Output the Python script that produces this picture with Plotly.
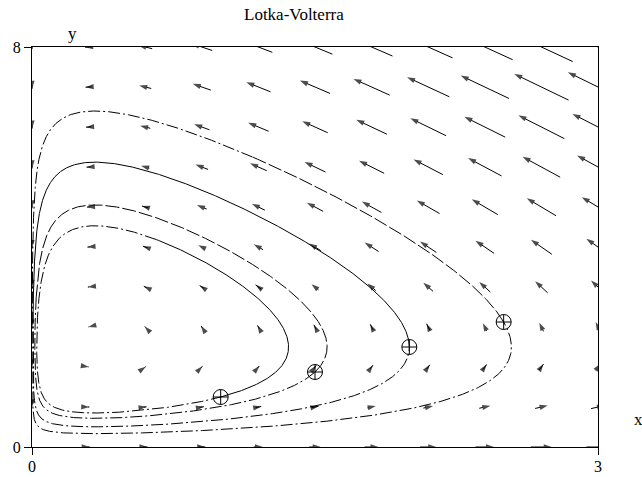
import numpy as np
import plotly.graph_objects as go

# Lotka-Volterra model:  x' = x (a - b y),  y' = y (-c + d x)
a, b, c, d = 2.0, 1.0, 0.5, 1.5

# direction field grid
field_x = [0.0, 0.3, 0.6, 0.9, 1.2, 1.5, 1.8, 2.1, 2.4, 2.7, 3.0]
field_y = [0.0, 0.8, 1.6, 2.4, 3.2, 4.0, 4.8, 5.6, 6.4, 7.2, 8.0]
arrow_scale = 0.0205

# initial conditions of the trajectories
start_x = [1.0, 1.5, 2.0, 2.5]
start_y = [1.0, 1.5, 2.0, 2.5]
# angle (deg, around the equilibrium) where the retraced stretch of each orbit ends
retrace_end = [60.0, 140.0, 150.0, 50.0]
retrace_dash = ["solid", "14px,3px", "solid", "14px,3px"]
base_dash = "12px,3px,2px,3px"

X_RANGE = [0, 3]
Y_RANGE = [0, 8]
PLOT_W, PLOT_H = 566, 400
M_L, M_T = 32, 47
SERIF = "Liberation Serif"

x_eq, y_eq = c / d, a / b


def field(x, y):
    return x * (a - b * y), y * (-c + d * x)


def screen_angle(x, y):
    sx = (x - x_eq) / (X_RANGE[1] - X_RANGE[0]) * PLOT_W
    sy = (y - y_eq) / (Y_RANGE[1] - Y_RANGE[0]) * PLOT_H
    return np.degrees(np.arctan2(sy, sx))


def trajectory(x0, y0, dt=0.002, t_max=60.0):
    # integrate in log coordinates (u = ln x, v = ln y) with RK4
    def rhs(s):
        return np.array([a - b * np.exp(s[1]), -c + d * np.exp(s[0])])

    s = np.array([np.log(x0), np.log(y0)])
    pts = [s.copy()]
    prev = screen_angle(x0, y0)
    total = 0.0
    for _ in range(int(t_max / dt)):
        k1 = rhs(s)
        k2 = rhs(s + 0.5 * dt * k1)
        k3 = rhs(s + 0.5 * dt * k2)
        k4 = rhs(s + dt * k3)
        s = s + dt / 6 * (k1 + 2 * k2 + 2 * k3 + k4)
        th = screen_angle(np.exp(s[0]), np.exp(s[1]))
        total += (th - prev + 180) % 360 - 180
        prev = th
        pts.append(s.copy())
        if total >= 360:
            break
    pts = np.exp(np.array(pts))
    return pts[:, 0], pts[:, 1]


fig = go.Figure()

# orbits
for x0, y0, th_end, dsh in zip(start_x, start_y, retrace_end, retrace_dash):
    xs, ys = trajectory(x0, y0)
    th0 = screen_angle(x0, y0)
    ang = np.degrees(np.unwrap(np.radians(screen_angle(xs, ys))))
    ang = ang - ang[0] + th0
    end = th_end if th_end > th0 else th_end + 360
    k = int(np.searchsorted(ang, end))
    fig.add_trace(go.Scatter(x=xs[:k + 1], y=ys[:k + 1], mode="lines",
                             line=dict(color="black", width=1, dash=dsh),
                             hoverinfo="skip", showlegend=False))
    fig.add_trace(go.Scatter(x=xs[k:], y=ys[k:], mode="lines",
                             line=dict(color="black", width=1, dash=base_dash),
                             hoverinfo="skip", showlegend=False))

# direction field, arrows centred on the grid points
ax_, ay_, sz = [], [], []
for gx in field_x:
    for gy in field_y:
        fx, fy = field(gx, gy)
        if fx == 0 and fy == 0:
            continue
        hx, hy = arrow_scale * fx / 2, arrow_scale * fy / 2
        ax_ += [gx - hx, gx + hx, None]
        ay_ += [gy - hy, gy + hy, None]
        sz += [0, 8.5, 0]

fig.add_trace(go.Scatter(
    x=ax_, y=ay_, mode="lines+markers",
    line=dict(color="black", width=1),
    marker=dict(symbol="arrow", size=sz, angleref="previous", color="black",
                line=dict(width=0)),
    hoverinfo="skip", showlegend=False, cliponaxis=True))

# initial points
fig.add_trace(go.Scatter(
    x=start_x, y=start_y, mode="markers",
    marker=dict(symbol="circle-cross-open", size=15, color="black",
                line=dict(width=1, color="black")),
    hoverinfo="skip", showlegend=False))

axis_common = dict(showgrid=False, zeroline=False, showline=True, mirror=True,
                   linecolor="black", linewidth=1, ticks="outside", ticklen=7,
                   tickcolor="black", tickwidth=1, automargin=False,
                   tickfont=dict(family=SERIF, size=16, color="black"))
fig.update_xaxes(range=X_RANGE, tickvals=X_RANGE, ticktext=["0", "3"],
                 ticklabelstandoff=-2, **axis_common)
fig.update_yaxes(range=Y_RANGE, tickvals=Y_RANGE, ticktext=["0", "8"], **axis_common)

fig.update_layout(
    width=642, height=477,
    margin=dict(l=M_L, r=642 - M_L - PLOT_W, t=M_T, b=477 - M_T - PLOT_H, pad=0),
    plot_bgcolor="white", paper_bgcolor="white",
    annotations=[
        dict(text="Lotka-Volterra", xref="paper", yref="paper", x=0.463, y=1.08,
             xanchor="center", yanchor="middle", showarrow=False,
             font=dict(family=SERIF, size=17, color="black")),
        dict(text="y", xref="paper", yref="paper", x=0.0707, y=1.035,
             xanchor="center", yanchor="middle", showarrow=False,
             font=dict(family=SERIF, size=17, color="black")),
        dict(text="x", xref="paper", yref="paper", x=1.0707, y=0.07,
             xanchor="center", yanchor="middle", showarrow=False,
             font=dict(family=SERIF, size=17, color="black")),
    ],
)

fig.write_html("out.html")
